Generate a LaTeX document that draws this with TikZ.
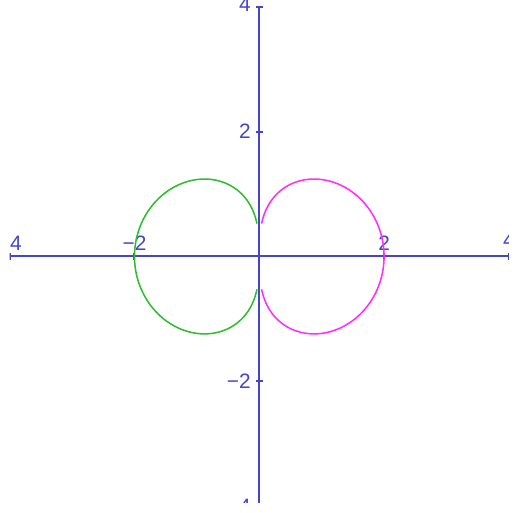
\documentclass[tikz,border=0pt]{standalone}
\usepackage{fontspec}
\setmainfont{Liberation Sans}
\definecolor{axisblue}{RGB}{68,68,205}
\definecolor{curvegreen}{RGB}{45,190,45}
\definecolor{curvemag}{RGB}{255,45,255}
\begin{document}
\begin{tikzpicture}[font=\fontsize{9.5}{11}\selectfont,
  axis/.style={draw=axisblue,line width=0.9pt},
  lbl/.style={text=axisblue,inner sep=0pt},
  curve/.style={line width=0.7pt,smooth,samples=120}]
  \useasboundingbox (-4.155,-4.095) rectangle (4.13,4.11);
  \clip (-4,-3.95) rectangle (4,4.11);
  \draw[axis] (-4,0)--(4.1,0);
  \draw[axis] (0,-4)--(0,3.98);
  \foreach \t in {-4,-2,2,4} {
    \draw[axis] (\t,-0.06)--(\t,0.06);
    \draw[axis] (-0.055,\t)--(0.055,\t);
  }
  \node[lbl,anchor=base west] (xm4) at (-4,0.1) {4};
  \node[lbl,anchor=base] (xm2) at (-2,0.1) {−2};
  \node[lbl,anchor=base] (x2) at (2,0.1) {2};
  \node[lbl,anchor=base west] (x4) at (3.9,0.14) {4};
  \node[lbl,anchor=east] (y4) at (-0.13,4.04) {4};
  \node[lbl,anchor=east] (y2) at (-0.13,2) {2};
  \node[lbl,anchor=east] (ym2) at (-0.13,-2) {−2};
  \node[lbl,anchor=east] (ym4) at (-0.13,-4) {4};
  \draw[curve,curvemag] plot[domain=-86:86]
    ({2*sqrt(cos(\x))*cos(\x)},{2*sqrt(cos(\x))*sin(\x)});
  \draw[curve,curvegreen] plot[domain=-86:86]
    ({-2*sqrt(cos(\x))*cos(\x)},{2*sqrt(cos(\x))*sin(\x)});
\end{tikzpicture}
\end{document}
